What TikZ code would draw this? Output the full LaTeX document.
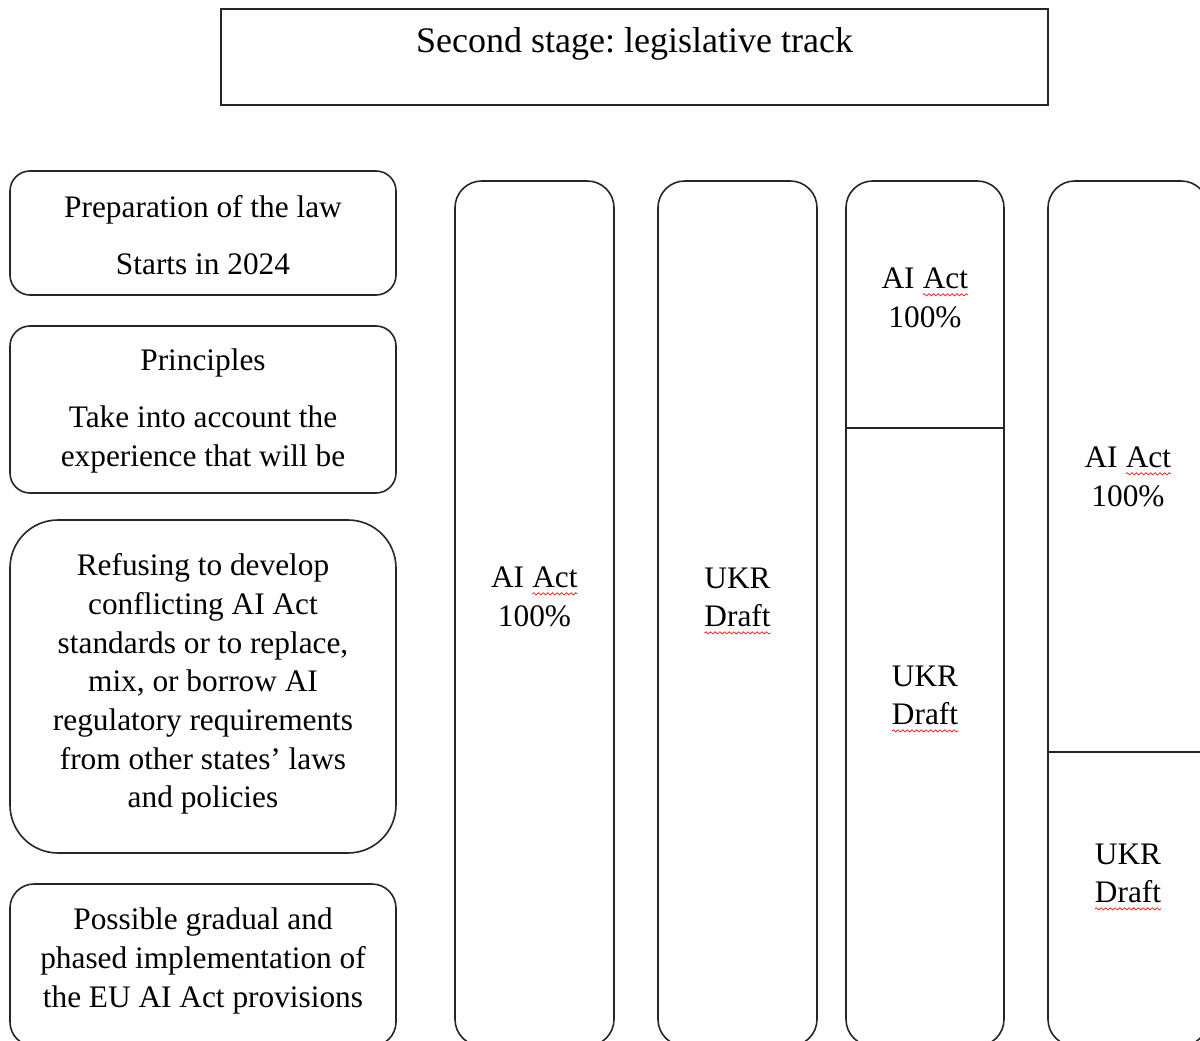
\documentclass[tikz,border=0pt]{standalone}
\usepackage{fontspec}
\setmainfont{Liberation Serif}
\usetikzlibrary{fit,positioning,decorations.pathmorphing}

% red wavy spell-check underline
\newcommand\spell[1]{\tikz[baseline=(w.base),x=1cm,y=1cm]{%
  \node[inner sep=0pt,outer sep=0pt] (w) {#1};
  \draw[red!85,line width=0.6pt,decorate,
        decoration={snake,amplitude=0.8pt,segment length=3.5pt}]
    ([yshift=-4.5pt]w.base west) -- ([yshift=-4.5pt]w.base east);}}

\begin{document}
\frenchspacing
\begin{tikzpicture}[x=0.75pt,y=-0.75pt]
\tikzstyle{box}=[draw=black!85,line width=1.2pt,inner sep=0pt]
\tikzstyle{sidebox}=[box,rounded corners=15pt]
\tikzstyle{colbox}=[box,rounded corners=20pt]
\tikzstyle{txt}=[align=center,inner sep=0pt,font=\fontsize{23.5}{29}\selectfont]

\useasboundingbox (0,0) rectangle (1200,1041);

%% Title
\node [box, fit={(221,9) (1048,105)}] (title) {};
\node [txt, font=\fontsize{27}{32}\selectfont] (titletext) at (634.5,44) {Second stage: legislative track};

%% Left column
\node [sidebox, fit={(10,171) (396,295)}] (prep) {};
\node [sidebox, fit={(10,326) (396,493)}] (princ) {};
\node [sidebox, rounded corners=36pt, fit={(10,520) (396,853)}] (refuse) {};
\node [sidebox, rounded corners=18pt, fit={(10,884) (396,1046)}] (phase) {};

\node [txt] (preptext) at (203,235) {Preparation of the law\\[14pt]Starts in 2024};
\node [txt] (princtext) at (203,411) {Principles\\[14pt]Take into account the\\experience that will be};
\node [txt] (refusetext) at (203,684) {Refusing to develop\\conflicting AI Act\\standards or to replace,\\mix, or borrow AI\\regulatory requirements\\from other states' laws\\and policies};
\node [txt] (phasetext) at (203,961) {Possible gradual and\\phased implementation of\\the EU AI Act provisions};

%% Columns
\node [colbox, fit={(455,181) (614,1046)}] (col1) {};
\node [colbox, fit={(658,181) (817,1046)}] (col2) {};
\node [colbox, fit={(846,181) (1004,1046)}] (col3) {};
\node [colbox, fit={(1048,181) (1208,1046)}] (col4) {};

\draw [line width=1.2pt, draw=black!85] (col3.west |- 0,428) -- (col3.east |- 0,428);
\draw [line width=1.2pt, draw=black!85] (col4.west |- 0,752) -- (col4.east |- 0,752);

\node [txt] (act1) at (534.5,597) {AI \spell{Act}\\100\%};
\node [txt] (ukr2) at (737.5,601) {UKR\\\spell{Draft}};
\node [txt] (act3) at (925,298) {AI \spell{Act}\\100\%};
\node [txt] (ukr3) at (925,699) {UKR\\\spell{Draft}};
\node [txt] (act4) at (1128,477) {AI \spell{Act}\\100\%};
\node [txt] (ukr4) at (1128,877) {UKR\\\spell{Draft}};

\end{tikzpicture}
\end{document}
